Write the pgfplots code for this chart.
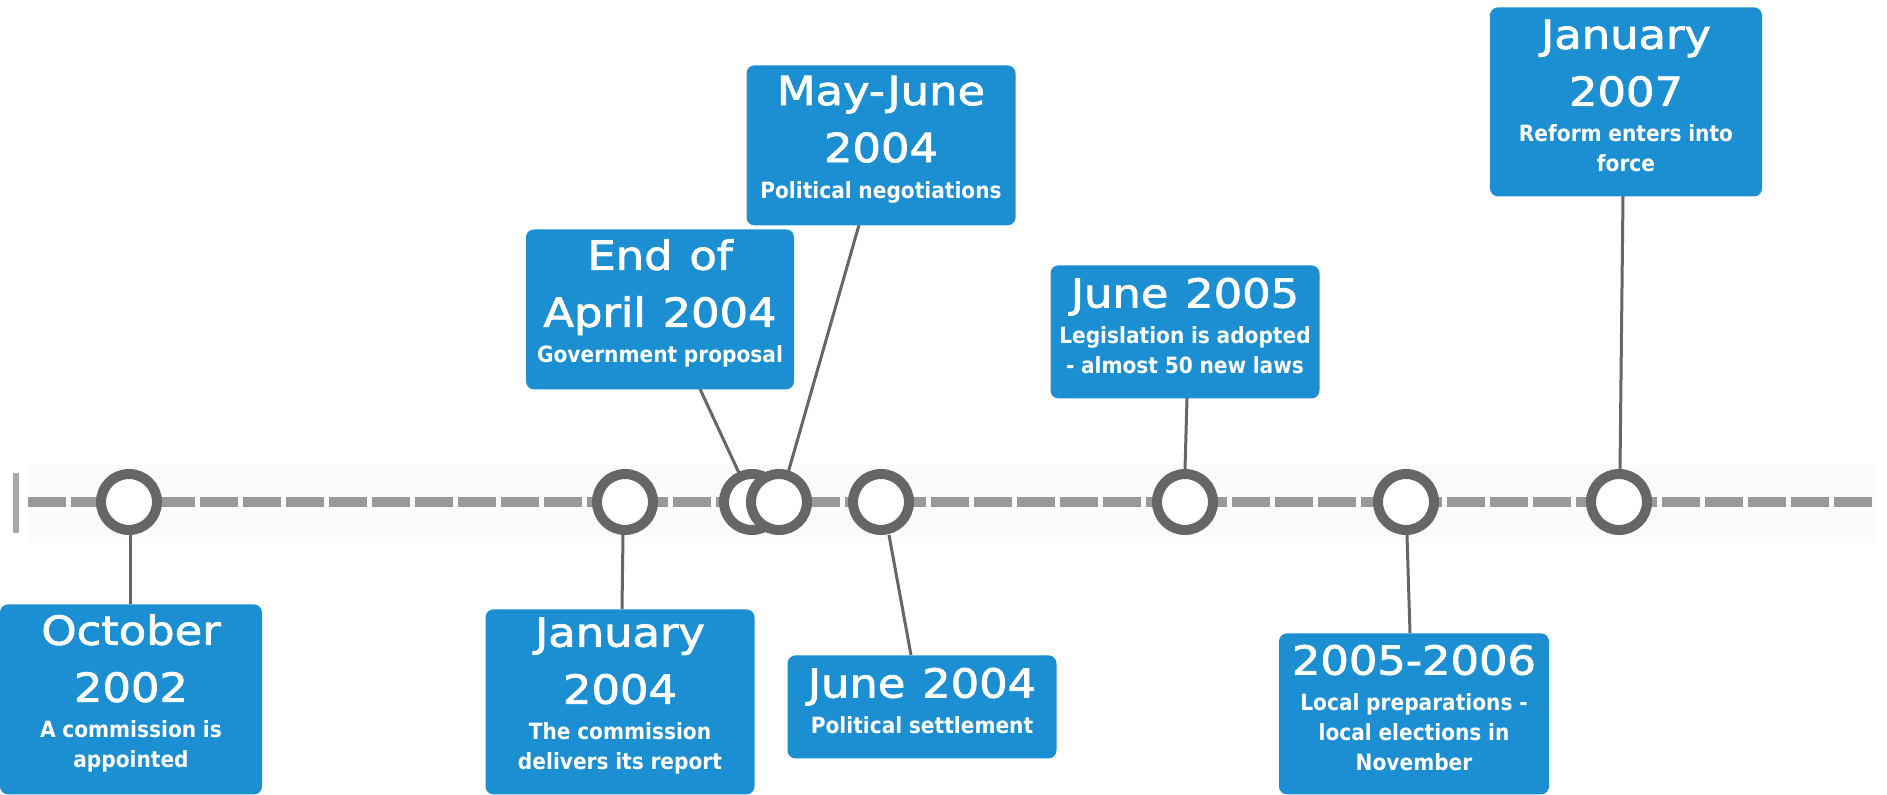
\documentclass[border=0pt]{standalone}
\usepackage{pgfplots}
\pgfplotsset{compat=1.18}
\usepackage{fontspec}
\setmainfont[FakeStretch=1.12, FakeBold=2]{DejaVu Sans}
\newfontfamily\subfont[FakeStretch=0.9]{DejaVu Sans}

\definecolor{boxblue}{RGB}{27,143,209}
\definecolor{ring}{RGB}{102,102,102}
\definecolor{dashgray}{RGB}{153,153,153}

% event box: centre x, top y, height (px), width (px), title, text
\newcommand{\evbox}[6]{%
  \node[fill=boxblue, rounded corners=4pt, text=white, inner sep=0pt,
        text width=130pt, align=center, anchor=north,
        minimum width=#4*0.5pt, minimum height=#3*0.5pt]
    at (axis cs:#1,#2)
    {{\fontsize{20}{28.5}\selectfont\spaceskip=0.42em #5\par}\vspace{3pt}%
     {\subfont\bfseries\fontsize{11.2}{15}\selectfont #6\par}\vspace*{6pt}};}

\begin{document}
\begin{tikzpicture}
\begin{axis}[
    width=943.5pt, height=397.5pt, scale only axis,
    xmin=0, xmax=1887, ymin=0, ymax=795, y dir=reverse,
    hide axis, clip=false,
]
% page extent
\addplot[draw=none] coordinates {(0,0) (1887,795)};
% faint band behind the line
\addplot[draw=none, fill=black!1.5] coordinates {(28,465) (1875,465) (1875,542) (28,542) (28,465)};
% time line
\addplot[dashgray, line width=5pt, dash pattern=on 19pt off 2.5pt] coordinates {(28,502) (1873,502)};
\addplot[dashgray!85, line width=3pt] coordinates {(16,473) (16,533)};

% connectors
\addplot[ring, line width=1.5pt] coordinates {(130,535) (130,604)};
\addplot[ring, line width=1.5pt] coordinates {(623,535) (622,609)};
\addplot[ring, line width=1.5pt] coordinates {(700,389) (739,473)};
\addplot[ring, line width=1.5pt] coordinates {(859,225) (788,473)};
\addplot[ring, line width=1.5pt] coordinates {(889,535) (911,655)};
\addplot[ring, line width=1.5pt] coordinates {(1187,398) (1185,470)};
\addplot[ring, line width=1.5pt] coordinates {(1407,535) (1410,633)};
\addplot[ring, line width=1.5pt] coordinates {(1623,196) (1620,470)};

% event markers
\addplot[only marks, mark=*, mark size=14pt,
    mark options={draw=ring, fill=white, line width=5pt}]
    coordinates {(129,502) (625,502) (752,502) (779,502) (881,502)
                 (1185,502) (1406,502) (1619,502)};

\evbox{131}{604}{190}{262}{October\\2002}{A commission is\\appointed}
\evbox{620}{609}{185}{269}{January\\2004}{The commission\\delivers its report}
\evbox{660}{229}{160}{268}{End of\\April 2004}{Government proposal}
\evbox{881}{65}{160}{269}{May-June\\2004}{Political negotiations}
\evbox{922}{655}{103}{269}{June 2004}{Political settlement}
\evbox{1185}{265}{133}{269}{June 2005}{Legislation is adopted\\- almost 50 new laws}
\evbox{1414}{633}{161}{270}{2005-2006}{Local preparations -\\local elections in\\November}
\evbox{1626}{7}{189}{272}{January\\2007}{Reform enters into\\force}
\end{axis}
\end{tikzpicture}
\end{document}
